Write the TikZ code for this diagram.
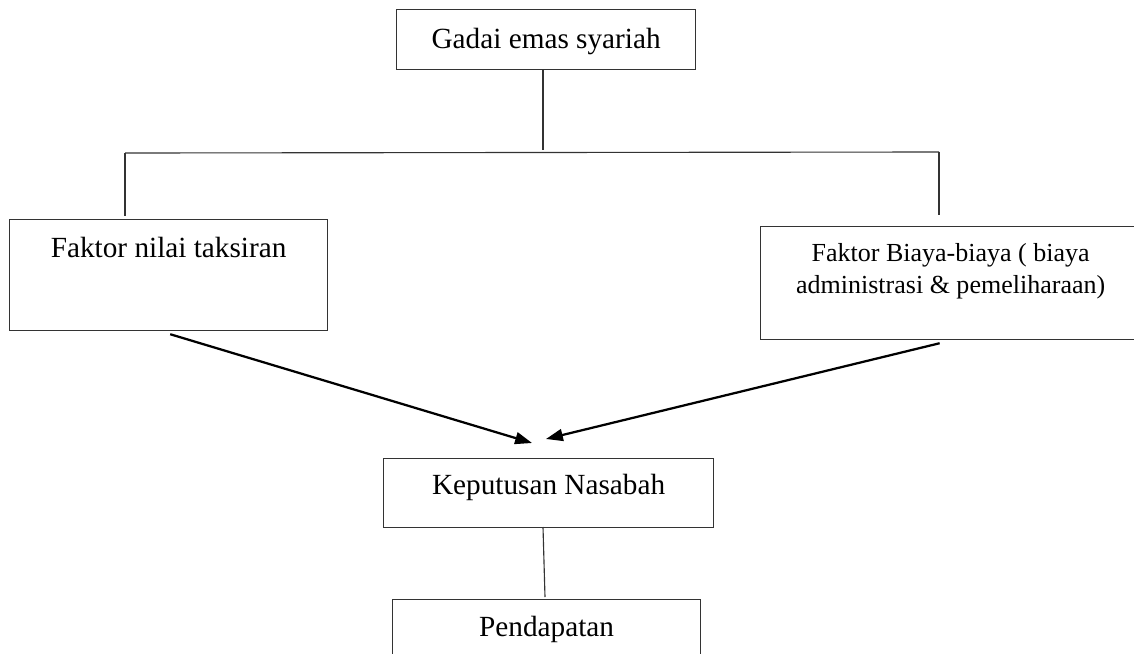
\documentclass[tikz,border=0pt]{standalone}
\usepackage{fontspec}
\setmainfont{Liberation Serif}
\usepackage{tikz}
\usetikzlibrary{arrows.meta}

\begin{document}
\begin{tikzpicture}[x=0.025cm, y=-0.025cm,
  box/.style={draw=black!80, line width=0.85pt, anchor=north west, inner ysep=0pt,
    font=\fontsize{20.8pt}{25pt}\selectfont},
  small/.style={font=\fontsize{18.5pt}{22.8pt}\selectfont, align=center},
  link/.style={draw=black!80, line width=0.8pt},
  arr/.style={line width=1.6pt, -{Triangle[length=12pt, width=8.5pt]}}]
\useasboundingbox (0,0) rectangle (1134,653);

\node[box, minimum width=7.475cm, text height=0.975cm, text depth=0.525cm] (gadai) at (396, 9) {Gadai emas syariah};
\node[box, minimum width=7.95cm, text height=0.95cm, text depth=1.825cm] (nilai) at (9, 219) {Faktor nilai taksiran};
\node[box, small, minimum width=9.5cm, text height=1.675cm, text depth=1.15cm] (biaya) at (760, 226) {Faktor Biaya-biaya ( biaya\\ administrasi \& pemeliharaan)};
\node[box, minimum width=8.25cm, text height=0.9cm, text depth=0.825cm] (keputusan) at (383, 458) {Keputusan Nasabah};
\node[box, minimum width=7.7cm, text height=0.925cm, text depth=1cm] (pendapatan) at (392, 599) {Pendapatan};

\coordinate (top) at (543, 150);
\coordinate (hl) at (125, 153);
\coordinate (hr) at (939, 152);
\coordinate (nl) at (125, 216);
\coordinate (nr) at (939, 215);
\coordinate (tipl) at (532, 443);
\coordinate (tipr) at (546, 439);
\coordinate (kp) at (543, 527);
\coordinate (pd) at (545, 597);

\draw[link] (gadai.south -| top) -- (top);
\draw[link] (hl) -- (hr);
\draw[link] (hl) -- (nl);
\draw[link] (hr) -- (nr);

\draw[arr] ([xshift=0.04cm, yshift=-0.075cm]nilai.south) -- (tipl);
\draw[arr] ([xshift=-0.275cm, yshift=-0.075cm]biaya.south) -- (tipr);

\draw[link] (kp) -- (pd);
\end{tikzpicture}
\end{document}
